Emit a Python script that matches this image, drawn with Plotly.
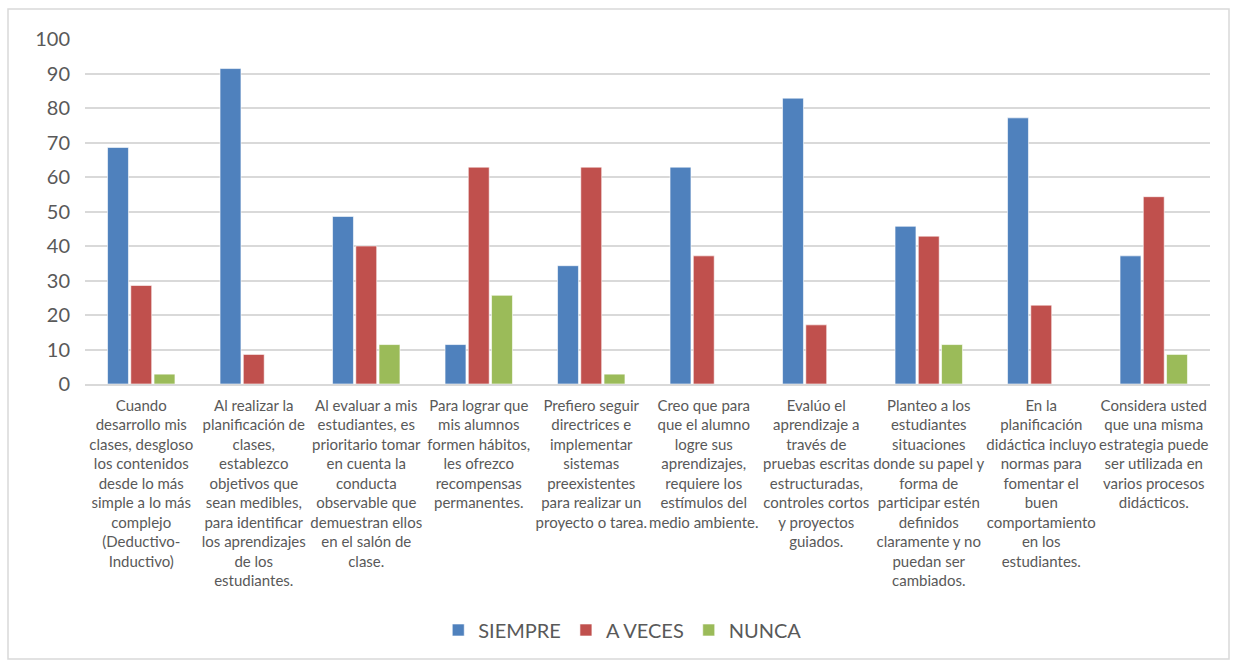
import plotly.graph_objects as go

categories = [
    "Cuando<br>desarrollo mis<br>clases, desgloso<br>los contenidos<br>desde lo más<br>simple a lo más<br>complejo<br>(Deductivo-<br>Inductivo)",
    "Al realizar la<br>planificación de<br>clases,<br>establezco<br>objetivos que<br>sean medibles,<br>para identificar<br>los aprendizajes<br>de los<br>estudiantes.",
    "Al evaluar a mis<br>estudiantes, es<br>prioritario tomar<br>en cuenta la<br>conducta<br>observable que<br>demuestran ellos<br>en el salón de<br>clase.",
    "Para lograr que<br>mis alumnos<br>formen hábitos,<br>les ofrezco<br>recompensas<br>permanentes.",
    "Prefiero seguir<br>directrices e<br>implementar<br>sistemas<br>preexistentes<br>para realizar un<br>proyecto o tarea.",
    "Creo que para<br>que el alumno<br>logre sus<br>aprendizajes,<br>requiere los<br>estímulos del<br>medio ambiente.",
    "Evalúo el<br>aprendizaje a<br>través de<br>pruebas escritas<br>estructuradas,<br>controles cortos<br>y proyectos<br>guiados.",
    "Planteo a los<br>estudiantes<br>situaciones<br>donde su papel y<br>forma de<br>participar estén<br>definidos<br>claramente y no<br>puedan ser<br>cambiados.",
    "En la<br>planificación<br>didáctica incluyo<br>normas para<br>fomentar el<br>buen<br>comportamiento<br>en los<br>estudiantes.",
    "Considera usted<br>que una misma<br>estrategia puede<br>ser utilizada en<br>varios procesos<br>didácticos.",
]

siempre = [68.57, 91.43, 48.57, 11.43, 34.29, 62.86, 82.86, 45.71, 77.14, 37.14]
a_veces = [28.57, 8.57, 40.0, 62.86, 62.86, 37.14, 17.14, 42.86, 22.86, 54.29]
nunca = [2.86, 0, 11.43, 25.71, 2.86, 0, 0, 11.43, 0, 8.57]

series = [("SIEMPRE", siempre, "#4F81BD"), ("A VECES", a_veces, "#C0504D"), ("NUNCA", nunca, "#9BBB59")]

fig = go.Figure()
for name, vals, color in series:
    fig.add_trace(go.Bar(
        name=name, x=list(range(len(categories))), y=vals,
        marker=dict(color=color, line=dict(color="rgba(255,255,255,0.6)", width=1)),
    ))

font_family = "Lato, 'Open Sans', sans-serif"

fig.update_layout(
    width=1234, height=664,
    margin=dict(l=85, r=24, t=39, b=280),
    paper_bgcolor="white", plot_bgcolor="white",
    barmode="group", bargap=0.38, bargroupgap=0.1,
    font=dict(family=font_family, color="#595959"),
    showlegend=True,
    legend=dict(orientation="h", x=0.478, xanchor="center", y=-0.713, yanchor="middle",
                font=dict(size=20, color="#595959"), traceorder="normal", itemwidth=30),
    xaxis=dict(
        tickmode="array", tickvals=list(range(len(categories))), ticktext=categories,
        tickangle=0, tickfont=dict(size=15, color="#595959"),
        showgrid=False, showline=True, linecolor="#D9D9D9", linewidth=1.5,
        range=[-0.5, 9.5], ticks="", ticklabelstandoff=7,
    ),
    yaxis=dict(
        range=[0, 100], dtick=10, tickfont=dict(size=20, color="#595959"),
        showgrid=True, gridcolor="#D9D9D9", gridwidth=1.5, zeroline=False,
        showline=False, ticks="", ticklabelstandoff=14,
    ),
    shapes=[dict(type="rect", xref="paper", yref="paper",
                 x0=(8 - 85) / 1125, x1=(1229 - 85) / 1125,
                 y0=(384 - 659) / 345, y1=(384 - 9) / 345,
                 line=dict(color="#D9D9D9", width=1.5), fillcolor="rgba(0,0,0,0)", layer="below")],
)

fig.write_html("out.html", config={"displayModeBar": False},
               post_script="document.body.style.margin='0';document.body.style.overflow='hidden';")
